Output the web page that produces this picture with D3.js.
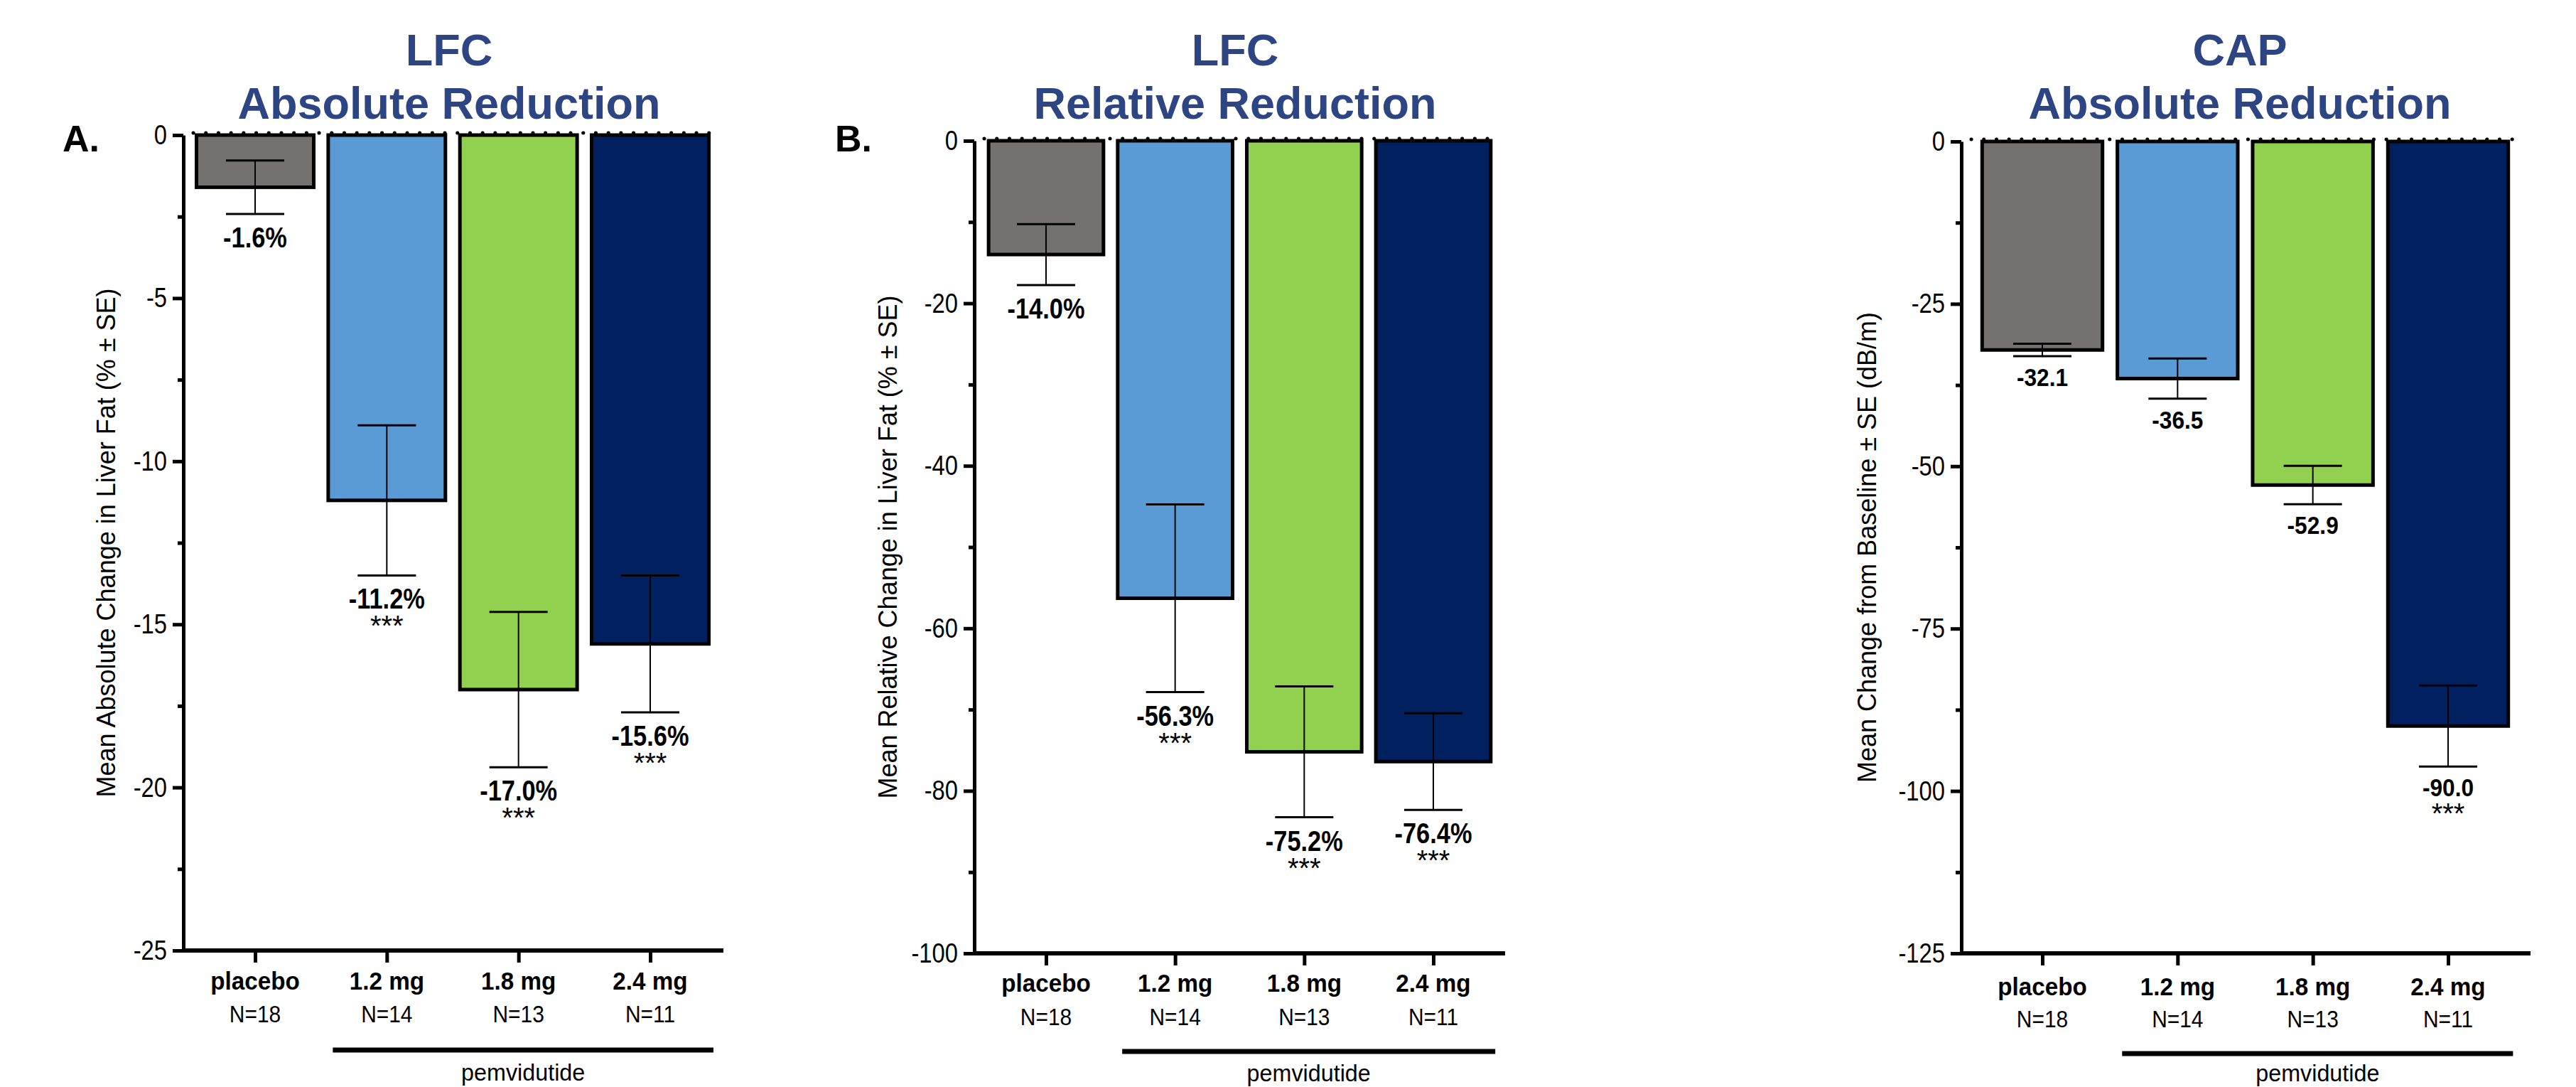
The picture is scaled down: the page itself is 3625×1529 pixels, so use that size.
<!DOCTYPE html>
<html>
<head>
<meta charset="utf-8">
<script src="https://cdn.jsdelivr.net/npm/d3@7"></script>
<style>
  body { margin: 0; background: #fff; }
  svg { display: block; }
</style>
</head>
<body>
<svg width="3625" height="1529"></svg>
<script>
// groups shared by the three panels
const categories = ["placebo", "1.2 mg", "1.8 mg", "2.4 mg"];
const sampleSizes = ["N=18", "N=14", "N=13", "N=11"];
const treated = ["1.2 mg", "1.8 mg", "2.4 mg"];

// A. LFC absolute reduction
const lfcAbsMean = [-1.6, -11.2, -17.0, -15.6];
const lfcAbsSE = [0.82, 2.3, 2.38, 2.1];
const lfcAbsLabels = ["-1.6%", "-11.2%", "-17.0%", "-15.6%"];
const lfcAbsSig = ["", "***", "***", "***"];
const lfcAbsTicks = [0, -5, -10, -15, -20, -25];
const lfcAbsMinor = [-2.5, -7.5, -12.5, -17.5, -22.5];

// B. LFC relative reduction
const lfcRelMean = [-14.0, -56.3, -75.2, -76.4];
const lfcRelSE = [3.75, 11.55, 8.05, 5.95];
const lfcRelLabels = ["-14.0%", "-56.3%", "-75.2%", "-76.4%"];
const lfcRelSig = ["", "***", "***", "***"];
const lfcRelTicks = [0, -20, -40, -60, -80, -100];
const lfcRelMinor = [-10, -30, -50, -70, -90];

// C. CAP absolute reduction
const capMean = [-32.1, -36.5, -52.9, -90.0];
const capSE = [0.95, 3.1, 2.95, 6.25];
const capLabels = ["-32.1", "-36.5", "-52.9", "-90.0"];
const capSig = ["", "", "", "***"];
const capTicks = [0, -25, -50, -75, -100, -125];
const capMinor = [-12.5, -37.5, -62.5, -87.5, -112.5];

const barColors = ["#767171", "#5B9BD5", "#92D050", "#002060"];
const titleColor = "#2D4583";
const FONT = "'Liberation Sans', Arial, Helvetica, sans-serif";

const panels = [
  { title: ["LFC", "Absolute Reduction"], letter: "A.",
    yTitle: "Mean Absolute Change in Liver Fat (% \u00b1 SE)",
    means: lfcAbsMean, se: lfcAbsSE, labels: lfcAbsLabels, sig: lfcAbsSig,
    ticks: lfcAbsTicks, minor: lfcAbsMinor,
    lay: { axisX: 258, y0: 190, yMin: 1337, c0: 359, c1: 915, axisEnd: 1018, dotEnd: 1006,
           titleX: 632, letterX: 88, yTitleX: 162, catY: 1392, nY: 1438,
           bracketY: 1477, pemY: 1520, valSize: 40, valScale: 0.86, valGap: 47 } },
  { title: ["LFC", "Relative Reduction"], letter: "B.",
    yTitle: "Mean Relative Change in Liver Fat (% \u00b1 SE)",
    means: lfcRelMean, se: lfcRelSE, labels: lfcRelLabels, sig: lfcRelSig,
    ticks: lfcRelTicks, minor: lfcRelMinor,
    lay: { axisX: 1371, y0: 198, yMin: 1341, c0: 1472, c1: 2017, axisEnd: 2118, dotEnd: 2105,
           titleX: 1738, letterX: 1175, yTitleX: 1262, catY: 1395, nY: 1442,
           bracketY: 1479, pemY: 1521, valSize: 40, valScale: 0.86, valGap: 47 } },
  { title: ["CAP", "Absolute Reduction"], letter: "",
    yTitle: "Mean Change from Baseline \u00b1 SE (dB/m)",
    means: capMean, se: capSE, labels: capLabels, sig: capSig,
    ticks: capTicks, minor: capMinor,
    lay: { axisX: 2760, y0: 199, yMin: 1341, c0: 2874, c1: 3445, axisEnd: 3561, dotEnd: 3550,
           titleX: 3152, letterX: 0, yTitleX: 2640, catY: 1400, nY: 1445,
           bracketY: 1482, pemY: 1521, valSize: 36, valScale: 0.88, valGap: 42 } }
];

const svg = d3.select("svg");

// text that can be squeezed horizontally (the source uses a narrow face)
function addText(parent, x, y, str, size, weight, sx, anchor, fill) {
  return parent.append("text")
    .attr("transform", "translate(" + x + "," + y + ") scale(" + (sx || 1) + ",1)")
    .attr("text-anchor", anchor || "middle")
    .style("font-family", FONT)
    .style("font-size", size + "px")
    .style("font-weight", weight || "normal")
    .style("fill", fill || "#000")
    .text(str);
}

panels.forEach((p) => {
  const L = p.lay;
  const g = svg.append("g");

  const y = d3.scaleLinear()
    .domain([0, d3.min(p.ticks)])
    .range([L.y0, L.yMin]);

  const x = d3.scalePoint()
    .domain(categories)
    .range([L.c0, L.c1]);
  const step = x.step();
  const barW = step * 0.89;

  // titles
  addText(g, L.titleX, 92, p.title[0], 63, "bold", 1, "middle", titleColor);
  addText(g, L.titleX, 167, p.title[1], 63, "bold", 1, "middle", titleColor);
  if (p.letter) addText(g, L.letterX, 213, p.letter, 52, "bold", 1, "start");

  // y axis title
  g.append("text")
    .attr("transform", "translate(" + L.yTitleX + "," + ((L.y0 + L.yMin) / 2) + ") rotate(-90)")
    .attr("text-anchor", "middle")
    .style("font-family", FONT)
    .style("font-size", "36px")
    .text(p.yTitle);

  // bars
  g.selectAll("rect.bar")
    .data(p.means)
    .enter()
    .append("rect")
      .attr("class", "bar")
      .attr("x", (d, i) => x(categories[i]) - barW / 2)
      .attr("y", y(0))
      .attr("width", barW)
      .attr("height", (d) => y(d) - y(0))
      .attr("fill", (d, i) => barColors[i])
      .attr("stroke", "#000")
      .attr("stroke-width", 5);

  // dotted line at zero
  g.append("line")
    .attr("x1", L.axisX + 14).attr("x2", L.dotEnd)
    .attr("y1", y(0) - 3).attr("y2", y(0) - 3)
    .attr("stroke", "#000")
    .attr("stroke-width", 5)
    .attr("stroke-linecap", "round")
    .attr("stroke-dasharray", "0.1 17.6");

  // error bars (mean +/- SE)
  const capW = 82;
  const err = g.selectAll("g.err")
    .data(p.means)
    .enter()
    .append("g")
      .attr("class", "err")
      .attr("stroke", "#000");
  err.append("line")
    .attr("x1", (d, i) => x(categories[i])).attr("x2", (d, i) => x(categories[i]))
    .attr("y1", (d, i) => y(d + p.se[i])).attr("y2", (d, i) => y(d - p.se[i]))
    .attr("stroke-width", 2);
  err.append("line")
    .attr("x1", (d, i) => x(categories[i]) - capW / 2).attr("x2", (d, i) => x(categories[i]) + capW / 2)
    .attr("y1", (d, i) => y(d + p.se[i])).attr("y2", (d, i) => y(d + p.se[i]))
    .attr("stroke-width", 3);
  err.append("line")
    .attr("x1", (d, i) => x(categories[i]) - capW / 2).attr("x2", (d, i) => x(categories[i]) + capW / 2)
    .attr("y1", (d, i) => y(d - p.se[i])).attr("y2", (d, i) => y(d - p.se[i]))
    .attr("stroke-width", 3);

  // value labels and significance stars below each bar
  p.means.forEach((d, i) => {
    const cx = x(categories[i]);
    const base = y(d - p.se[i]) + L.valGap;
    addText(g, cx, base, p.labels[i], L.valSize, "bold", L.valScale);
    if (p.sig[i]) addText(g, cx, base + 38, p.sig[i], 40, "normal", 1);
  });

  // y axis, major ticks
  const yAxis = g.append("g")
    .attr("transform", "translate(" + L.axisX + ",0)")
    .call(d3.axisLeft(y).tickValues(p.ticks).tickSize(15).tickSizeOuter(0)
      .tickFormat((d) => String(d)));
  yAxis.select(".domain").attr("stroke-width", 5);
  yAxis.selectAll(".tick line").attr("stroke-width", 5);
  yAxis.selectAll(".tick text")
    .attr("x", -23 / 0.84)
    .attr("transform", "scale(0.84,1)")
    .style("font-family", FONT)
    .style("font-size", "39px")
    .style("fill", "#000");

  // y axis, minor ticks
  const yMinor = g.append("g")
    .attr("transform", "translate(" + L.axisX + ",0)")
    .call(d3.axisLeft(y).tickValues(p.minor).tickSize(8).tickFormat(""));
  yMinor.select(".domain").remove();
  yMinor.selectAll(".tick line").attr("stroke-width", 5);

  // x axis
  g.append("line")
    .attr("x1", L.axisX - 2).attr("x2", L.axisEnd)
    .attr("y1", y(d3.min(p.ticks))).attr("y2", y(d3.min(p.ticks)))
    .attr("stroke", "#000")
    .attr("stroke-width", 6);
  const xAxis = g.append("g")
    .attr("transform", "translate(0," + (y(d3.min(p.ticks)) + 3) + ")")
    .call(d3.axisBottom(x).tickSize(14).tickFormat(""));
  xAxis.select(".domain").remove();
  xAxis.selectAll(".tick line").attr("stroke-width", 5);

  // category labels
  categories.forEach((c, i) => {
    addText(g, x(c), L.catY, c, 35, "bold", 0.95);
    addText(g, x(c), L.nY, sampleSizes[i], 34, "normal", 0.88);
  });

  // pemvidutide bracket
  const bx1 = x(treated[0]) - step * 0.41;
  const bx2 = x(treated[treated.length - 1]) + step * 0.48;
  g.append("line")
    .attr("x1", bx1).attr("x2", bx2)
    .attr("y1", L.bracketY).attr("y2", L.bracketY)
    .attr("stroke", "#000")
    .attr("stroke-width", 7);
  addText(g, (bx1 + bx2) / 2, L.pemY, "pemvidutide", 34, "normal", 0.95);
});
</script>
</body>
</html>
